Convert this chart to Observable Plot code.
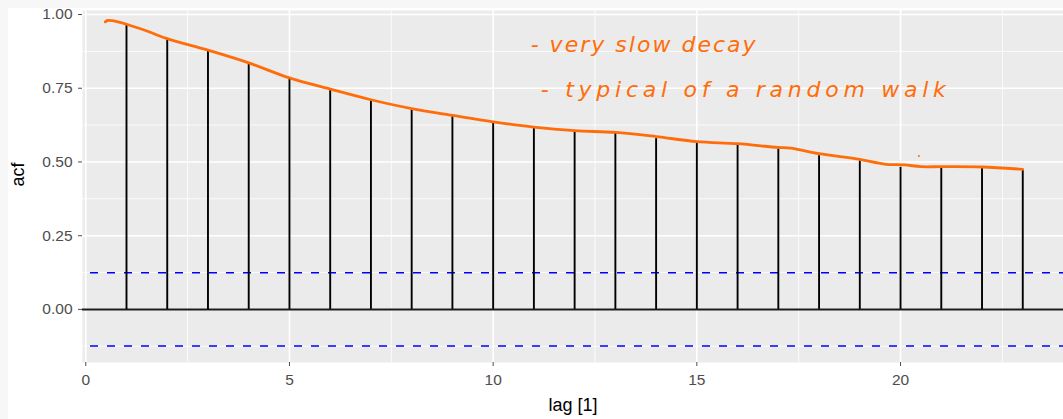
<!DOCTYPE html>
<html>
<head>
<meta charset="utf-8">
<script src="https://cdn.jsdelivr.net/npm/d3@7"></script>
<script src="https://cdn.jsdelivr.net/npm/@observablehq/plot@0.6"></script>
<style>
  html, body { margin: 0; padding: 0; }
  body {
    width: 1063px; height: 419px; overflow: hidden;
    background:
      linear-gradient(#f7f7f7, #f7f7f7) top left / 100% 8px no-repeat,
      linear-gradient(#f7f7f7, #f7f7f7) top left / 8px 100% no-repeat,
      #ffffff;
  }
</style>
</head>
<body>
<div id="chart"></div>
<script>
// ---- data ----
const lags = [1, 2, 3, 4, 5, 6, 7, 8, 9, 10, 11, 12, 13, 14, 15, 16, 17, 18, 19, 20, 21, 22, 23];
const acfValues = [0.966, 0.917, 0.880, 0.837, 0.782, 0.745, 0.708, 0.677, 0.654, 0.633, 0.616, 0.606, 0.598, 0.579, 0.567, 0.557, 0.543, 0.521, 0.503, 0.482, 0.482, 0.481, 0.472];
const ciBound = 0.124;

// hand-drawn orange annotation curve
const curveLag = [0.48, 0.54, 0.65, 1.0, 1.5, 2.0, 3.0, 4.0, 5.0, 6.0, 7.0, 8.0, 9.0, 10.0, 11.0, 12.0, 13.0, 14.0, 15.0, 16.0, 17.0, 17.3, 18.0, 19.0, 19.6, 20.1, 20.5, 21.0, 22.0, 23.0];
const curveAcf = [0.975, 0.980, 0.979, 0.967, 0.944, 0.918, 0.879, 0.836, 0.785, 0.747, 0.711, 0.681, 0.658, 0.636, 0.618, 0.606, 0.600, 0.586, 0.569, 0.562, 0.549, 0.547, 0.528, 0.509, 0.493, 0.490, 0.484, 0.484, 0.483, 0.475];
const strayLag = [20.45];
const strayAcf = [0.52];

// handwritten notes
const noteText = ["- very slow decay", "- typical of a random walk"];
const noteLag = [10.92, 11.17];
const noteAcf = [0.898, 0.745];

// axes
const xTicks = [0, 5, 10, 15, 20];
const xMinor = [2.5, 7.5, 12.5, 17.5, 22.5];
const yTicks = [0, 0.25, 0.5, 0.75, 1.0];
const yMinor = [-0.125, 0.125, 0.375, 0.625, 0.875];
const xTitle = "lag [1]";
const yTitle = "acf";

// ---- tables ----
const acfData = lags.map((l, i) => ({lag: l, acf: acfValues[i]}));
const curveData = curveLag.map((l, i) => ({lag: l, acf: curveAcf[i]}));
const strayData = strayLag.map((l, i) => ({lag: l, acf: strayAcf[i]}));
const noteData = noteText.map((t, i) => ({text: t, lag: noteLag[i], acf: noteAcf[i]}));

const orange = "#ff6d0a";

const chart = Plot.plot({
  width: 1063,
  height: 419,
  marginLeft: 82,
  marginRight: 0,
  marginTop: 10,
  marginBottom: 57,
  style: {fontFamily: "'Liberation Sans', Arial, sans-serif", background: "transparent"},
  x: {domain: [-0.08, 24.0]},
  y: {domain: [-0.18, 1.0136]},
  marks: [
    Plot.frame({fill: "#ebebeb", stroke: null}),
    Plot.ruleX(xMinor, {stroke: "#ffffff", strokeWidth: 0.8}),
    Plot.ruleY(yMinor, {stroke: "#ffffff", strokeWidth: 0.8}),
    Plot.ruleX(xTicks, {stroke: "#ffffff", strokeWidth: 1.6}),
    Plot.ruleY(yTicks, {stroke: "#ffffff", strokeWidth: 1.6}),
    Plot.ruleY([ciBound, -ciBound], {stroke: "#0000ff", strokeWidth: 1.5, strokeDasharray: "8,9", strokeDashoffset: -8}),
    Plot.ruleY([0], {stroke: "#1a1a1a", strokeWidth: 2}),
    Plot.ruleX(acfData, {x: "lag", y1: 0, y2: "acf", stroke: "#000000", strokeWidth: 1.9}),
    Plot.line(curveData, {x: "lag", y: "acf", stroke: orange, strokeWidth: 2.8, curve: "catmull-rom"}),
    Plot.dot(strayData, {x: "lag", y: "acf", r: 1, fill: orange, stroke: null}),
    Plot.text(noteData, {x: "lag", y: "acf", text: "text", textAnchor: "start", fill: orange, fontSize: 22, fontStyle: "italic", fontFamily: "'DejaVu Sans', sans-serif"}),
    Plot.axisX(xTicks, {tickSize: 4, tickPadding: 7, fontSize: 15.5, color: "#4d4d4d", label: null}),
    Plot.axisY(yTicks, {tickSize: 4, tickPadding: 6, fontSize: 15.5, color: "#4d4d4d", label: null, tickFormat: d3.format(".2f")}),
    Plot.text([xTitle], {text: d => d, frameAnchor: "bottom", lineAnchor: "middle", dy: 43, fontSize: 18, fill: "#000000"}),
    Plot.text([yTitle], {text: d => d, frameAnchor: "left", lineAnchor: "middle", dx: -64, rotate: -90, fontSize: 18, fill: "#000000"})
  ]
});

// stretch the handwritten notes to their drawn widths
const noteWidths = {"- very slow decay": 225, "- typical of a random walk": 405};
chart.querySelectorAll("text").forEach(t => {
  const w = noteWidths[t.textContent];
  if (w) { t.setAttribute("textLength", w); t.setAttribute("lengthAdjust", "spacing"); }
});

document.getElementById("chart").appendChild(chart);
</script>
</body>
</html>
